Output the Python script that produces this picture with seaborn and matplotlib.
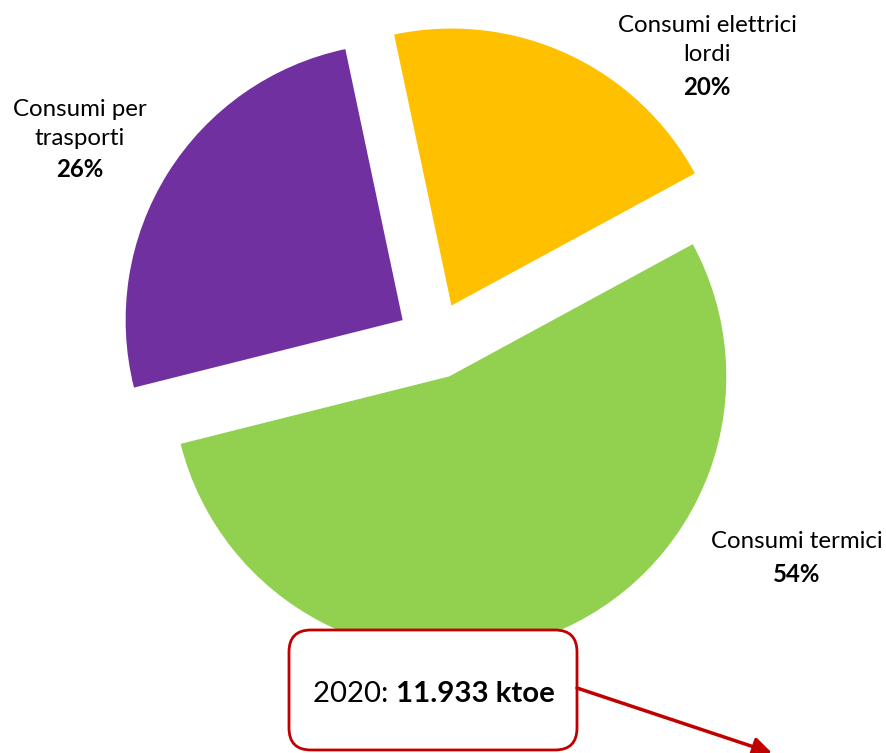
import matplotlib
matplotlib.use("Agg")
import matplotlib.pyplot as plt
import seaborn as sns
from matplotlib.patches import FancyBboxPatch

# Data
categories = ["Consumi elettrici\nlordi", "Consumi per\ntrasporti", "Consumi termici"]
shares = [20.4, 25.6, 54.0]
pct_labels = ["20%", "26%", "54%"]
total_label = "11.933 ktoe"
year = "2020"

colors = ["#FFC000", "#7030A0", "#92D050"]
red = "#C00000"

sns.set_theme(style="white")
plt.rcParams["font.family"] = ["Lato", "DejaVu Sans"]

W, H = 887, 753
R = 277
fig = plt.figure(figsize=(W / 100, H / 100), dpi=100)
ax = fig.add_axes([0, 0, 1, 1])

# Pie, every slice pulled out a bit (explode is in data units here)
ax.pie(shares, colors=colors, startangle=28.5, counterclock=True,
       explode=[0.139 * R] * len(shares), radius=R, center=(435.3, H - 340.5),
       wedgeprops=dict(linewidth=0))

ax.set_xlim(0, W)
ax.set_ylim(0, H)
ax.set_aspect("equal")
ax.axis("off")

# Slice labels
label_pos = [(707, H - 40), (80, H - 124), (797, H - 542)]
pct_pos = [(707, H - 87), (80, H - 169), (797, H - 574)]
for name, pct, (x, y), (px, py) in zip(categories, pct_labels, label_pos, pct_pos):
    ax.text(x, y, name, ha="center", va="center", fontsize=17.3,
            linespacing=1.45, color="black")
    ax.text(px, py, pct, ha="center", va="center", fontsize=17.3,
            fontweight="bold", color="black")

# Total box
box = FancyBboxPatch((289, H - 750), 288, 120,
                     boxstyle="round,pad=0,rounding_size=22",
                     facecolor="white", edgecolor=red, linewidth=2, zorder=5)
ax.add_patch(box)
ax.text(396, H - 694, year + ": ", ha="right", va="center", fontsize=21.2,
        color="black", zorder=6)
ax.text(396, H - 694, total_label, ha="left", va="center", fontsize=21.2,
        fontweight="bold", color="black", zorder=6)

# Arrow out of the box
ax.annotate("", xy=(772, 0), xytext=(577, H - 688),
            arrowprops=dict(arrowstyle="-|>", color=red, lw=2.5,
                            mutation_scale=28, shrinkA=0, shrinkB=0),
            zorder=6, annotation_clip=False)

fig.savefig("out.png", dpi=100)
